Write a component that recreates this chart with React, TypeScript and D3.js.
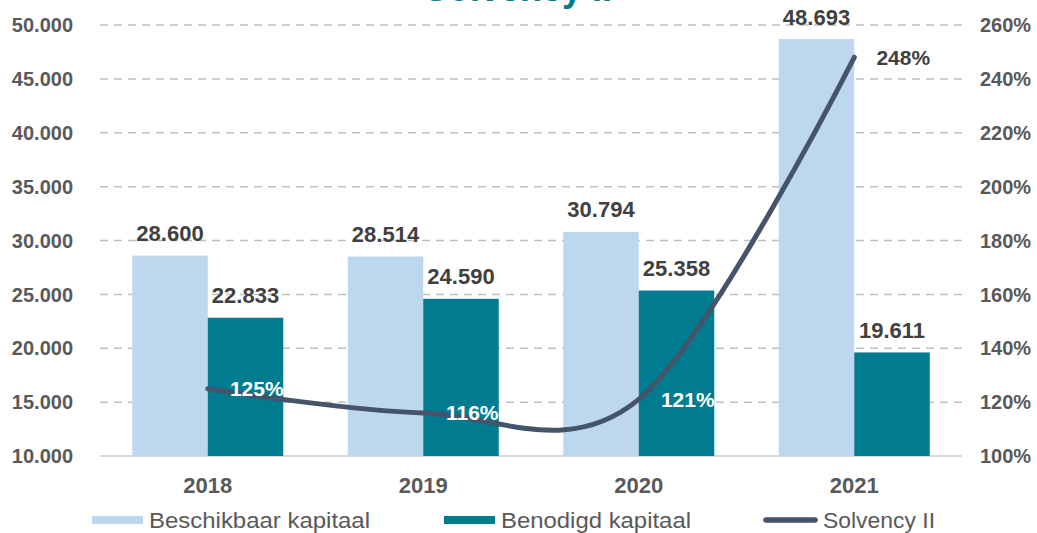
import React from "react";
import * as d3 from "d3";

const years = ["2018", "2019", "2020", "2021"];
const beschikbaar = [28600, 28514, 30794, 48693];
const benodigd = [22833, 24590, 25358, 19611];
const solvency = [1.25, 1.16, 1.21, 2.48];
const leftTicks = [10000, 15000, 20000, 25000, 30000, 35000, 40000, 45000, 50000];
const rightTicks = [1.0, 1.2, 1.4, 1.6, 1.8, 2.0, 2.2, 2.4, 2.6];
const seriesNames = ["Beschikbaar kapitaal", "Benodigd kapitaal", "Solvency II"];

const W = 1037;
const H = 533;
const LIGHT = "#BDD7EE";
const TEAL = "#007B8F";
const LINE = "#44546A";
const AXIS_TXT = "#595959";
const LABEL_TXT = "#404040";
const FONT = "Arial, 'Liberation Sans', Helvetica, sans-serif";

const fmtNL = (v: number) => d3.format(",")(v).replace(/,/g, ".");
const fmtPct = (v: number) => `${Math.round(v * 100)}%`;

export default function App() {
  const x0 = d3.scaleBand<string>().domain(years).range([100, 962]).padding(0);
  const x1 = d3
    .scaleBand<string>()
    .domain(["a", "b"])
    .range([0, x0.bandwidth()])
    .paddingInner(0)
    .paddingOuter(0.427);
  const y = d3.scaleLinear().domain([10000, 50000]).range([456, 25]);
  const y2 = d3.scaleLinear().domain([1.0, 2.6]).range([456, 25]);

  const pts: [number, number][] = years.map((yr, i) => [
    (x0(yr) as number) + x0.bandwidth() / 2,
    y2(solvency[i]),
  ]);
  const lineGen = d3.line().curve(d3.curveCardinal.tension(0));
  const path = lineGen(pts) || "";

  const legendItems = [
    { type: "rect", color: LIGHT, sx: 92, sw: 51, tx: 149, tw: 221 },
    { type: "rect", color: TEAL, sx: 444, sw: 51, tx: 501, tw: 190 },
    { type: "line", color: LINE, sx: 763, sw: 55, tx: 823, tw: 112 },
  ];

  return (
    <svg
      width={W}
      height={H}
      style={{ position: "absolute", left: 0, top: 0, background: "#fff" }}
      fontFamily={FONT}
    >
      <rect x={0} y={0} width={W} height={H} fill="#fff" />
      {/* title (cut off at top) */}
      <text x={518} y={0.5} textAnchor="middle" fontSize={36} fontWeight="bold" fill={TEAL}>
        Solvency II
      </text>

      {/* gridlines */}
      {leftTicks.map((t) => (
        <line
          key={"g" + t}
          x1={100}
          x2={962}
          y1={y(t)}
          y2={y(t)}
          stroke={t === 10000 ? "#D9D9D9" : "#BFBFBF"}
          strokeWidth={t === 10000 ? 2 : 1.5}
          strokeDasharray={t === 10000 ? undefined : "8,6"}
        />
      ))}

      {/* left axis labels */}
      {leftTicks.map((t) => (
        <text
          key={"l" + t}
          x={73}
          y={y(t)}
          dy="0.36em"
          textAnchor="end"
          fontSize={20}
          fontWeight="bold"
          fill={AXIS_TXT}
        >
          {fmtNL(t)}
        </text>
      ))}
      {/* right axis labels */}
      {rightTicks.map((t) => (
        <text
          key={"r" + t}
          x={980}
          y={y2(t)}
          dy="0.36em"
          textAnchor="start"
          fontSize={20}
          fontWeight="bold"
          fill={AXIS_TXT}
        >
          {fmtPct(t)}
        </text>
      ))}

      {/* bars */}
      {years.map((yr, i) => {
        const bx = x0(yr) as number;
        const xa = bx + (x1("a") as number);
        const xb = bx + (x1("b") as number);
        const bw = x1.bandwidth();
        return (
          <g key={"b" + yr}>
            <rect x={xa} y={y(beschikbaar[i])} width={bw} height={y(10000) - y(beschikbaar[i])} fill={LIGHT} />
            <rect x={xb} y={y(benodigd[i])} width={bw} height={y(10000) - y(benodigd[i])} fill={TEAL} />
            <text
              x={xa + bw / 2}
              y={y(beschikbaar[i]) - 14.5}
              textAnchor="middle"
              fontSize={22}
              fontWeight="bold"
              fill={LABEL_TXT}
            >
              {fmtNL(beschikbaar[i])}
            </text>
            <text
              x={xb + bw / 2}
              y={y(benodigd[i]) - 14.5}
              textAnchor="middle"
              fontSize={22}
              fontWeight="bold"
              fill={LABEL_TXT}
            >
              {fmtNL(benodigd[i])}
            </text>
          </g>
        );
      })}

      {/* x axis labels */}
      {years.map((yr) => (
        <text
          key={"x" + yr}
          x={(x0(yr) as number) + x0.bandwidth() / 2}
          y={493}
          textAnchor="middle"
          fontSize={22}
          fontWeight="bold"
          fill={AXIS_TXT}
        >
          {yr}
        </text>
      ))}

      {/* solvency line */}
      <path d={path} fill="none" stroke={LINE} strokeWidth={5} strokeLinecap="round" strokeLinejoin="round" />
      {pts.map((p, i) => (
        <text
          key={"p" + i}
          x={p[0] + 49}
          y={p[1]}
          dy="0.36em"
          textAnchor="middle"
          fontSize={21}
          fontWeight="bold"
          fill={i === 3 ? LABEL_TXT : "#fff"}
        >
          {fmtPct(solvency[i])}
        </text>
      ))}

      {/* legend */}
      {legendItems.map((it, i) => (
        <g key={"lg" + i}>
          {it.type === "rect" ? (
            <rect x={it.sx} y={516} width={it.sw} height={8} fill={it.color} />
          ) : (
            <line
              x1={it.sx + 3}
              x2={it.sx + it.sw - 3}
              y1={520}
              y2={520}
              stroke={it.color}
              strokeWidth={5.5}
              strokeLinecap="round"
            />
          )}
          <text
            x={it.tx}
            y={528}
            fontSize={22}
            fill={AXIS_TXT}
            textLength={it.tw}
            lengthAdjust="spacingAndGlyphs"
          >
            {seriesNames[i]}
          </text>
        </g>
      ))}
    </svg>
  );
}
